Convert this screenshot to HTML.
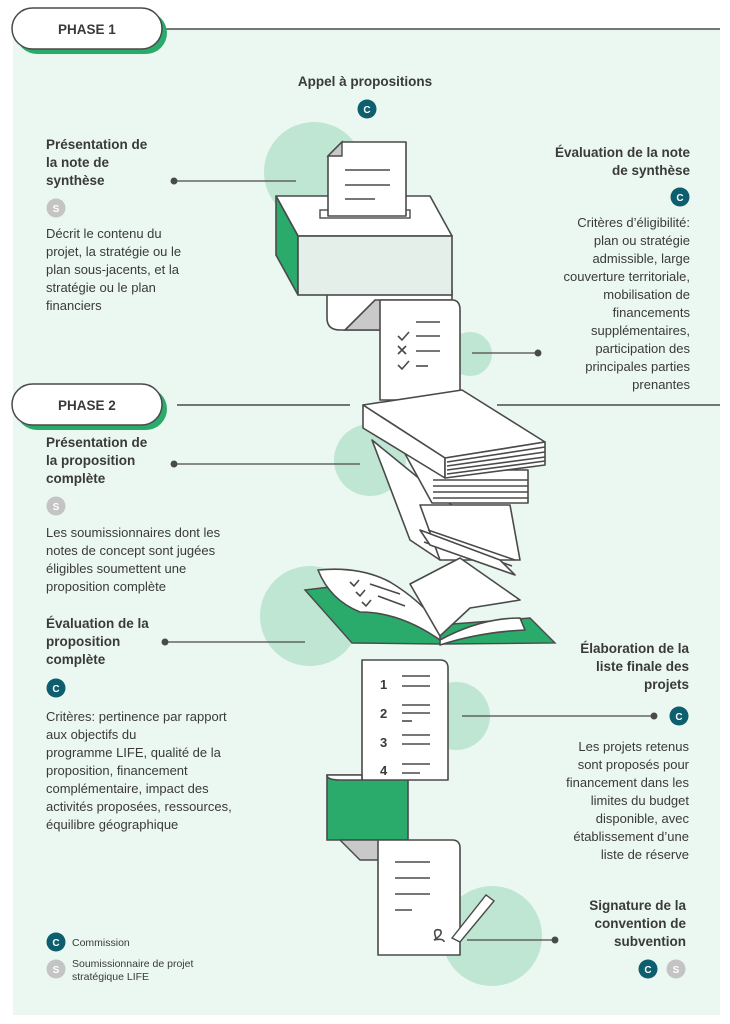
<!DOCTYPE html>
<html><head><meta charset="utf-8"><style>
body{margin:0;background:#fff;width:730px;height:1024px;overflow:hidden;font-family:"Liberation Sans",sans-serif}
svg{display:block}
.b{font-weight:bold;font-size:13.5px;fill:#3a3a3a}
.t{font-size:13px;fill:#3a3a3a}
.s{font-size:10.5px;fill:#3a3a3a}
.o{fill:#fff;stroke:#4a4a4a;stroke-width:1.6;stroke-linejoin:round}
.l{stroke:#4a4a4a;stroke-width:1.6;fill:none}
</style></head><body>
<svg width="730" height="1024" viewBox="0 0 730 1024">
<rect x="13" y="29" width="707" height="986" fill="#ebf7f1"/>
<!-- circles -->
<g fill="#bfe6d2">
<circle cx="314" cy="172" r="50"/><circle cx="470" cy="354" r="22"/>
<circle cx="370" cy="460" r="36"/><circle cx="310" cy="616" r="50"/>
<circle cx="456" cy="716" r="34"/><circle cx="492" cy="936" r="50"/>
</g>
<!-- phase lines -->
<line x1="160" y1="29" x2="720" y2="29" class="l" stroke-width="1.2"/>
<line x1="177" y1="405" x2="350" y2="405" class="l" stroke-width="1.2"/>
<line x1="497" y1="405" x2="720" y2="405" class="l" stroke-width="1.2"/>
<!-- phase pills -->
<rect x="16" y="12" width="151" height="42" rx="21" fill="#2bab6b"/>
<rect x="12" y="8" width="150" height="41" rx="20.5" fill="#fff" stroke="#4a4a4a" stroke-width="1.5"/>
<text x="58" y="34" class="b" font-size="13">PHASE 1</text>
<rect x="16" y="388" width="151" height="42" rx="21" fill="#2bab6b"/>
<rect x="12" y="384" width="150" height="41" rx="20.5" fill="#fff" stroke="#4a4a4a" stroke-width="1.5"/>
<text x="58" y="410" class="b" font-size="13">PHASE 2</text>
<!-- ballot box -->
<path class="o" d="M327 290 H452 V330 H340 Q327 330 327 318 Z"/>
<path d="M345 330 L375 300 H452 V330 Z" fill="#c9c9c9" stroke="#4a4a4a" stroke-width="1.6"/>
<path class="o" d="M276 196 H430 L452 236 H298 Z" fill="#fff"/>
<path d="M276 196 L298 236 V295 L276 255 Z" fill="#2bab6b" stroke="#4a4a4a" stroke-width="1.6"/>
<rect x="298" y="236" width="154" height="59" fill="#e4efe9" stroke="#4a4a4a" stroke-width="1.6"/>
<rect x="320" y="210" width="90" height="8" fill="#fff" stroke="#4a4a4a" stroke-width="1.4"/>
<path class="o" d="M342 142 H406 V216 H328 V156 Z"/>
<path d="M328 156 L342 156 L342 142 Z" fill="#c9c9c9" stroke="#4a4a4a" stroke-width="1.4"/>
<line class="l" x1="345" y1="170" x2="390" y2="170"/><line class="l" x1="345" y1="185" x2="390" y2="185"/><line class="l" x1="345" y1="199" x2="375" y2="199"/>
<!-- checklist -->
<path class="o" d="M380 300 H452 Q460 300 460 310 V400 H380 Z"/>
<g class="l"><path d="M398 336 l4 4 l7 -8"/><line x1="416" y1="322" x2="440" y2="322"/><line x1="416" y1="336" x2="440" y2="336"/><path d="M398 346 l8 8 M406 346 l-8 8"/><line x1="416" y1="351" x2="440" y2="351"/><path d="M398 365 l4 4 l7 -8"/><line x1="416" y1="366" x2="428" y2="366"/></g>
<!-- books -->
<path class="o" d="M372 440 L410 540 L440 560 L470 520 Z"/>
<path class="o" d="M420 505 H510 L520 560 H440 Z"/>
<g class="l" stroke-width="1.2"><line x1="428" y1="530" x2="515" y2="560"/><line x1="426" y1="536" x2="512" y2="566"/><line x1="424" y1="542" x2="510" y2="572"/></g>
<path class="o" d="M420 530 L500 560 L515 575 L430 545 Z"/>
<path class="o" d="M392 430 L432 470 H528 V503 H432 Z"/>
<g class="l" stroke-width="1.2"><line x1="433" y1="480" x2="528" y2="480"/><line x1="433" y1="486" x2="528" y2="486"/><line x1="433" y1="492" x2="528" y2="492"/><line x1="433" y1="498" x2="528" y2="498"/></g>
<path class="o" d="M363 405 L462 390 L545 442 L445 458 Z" fill="#e4efe9"/>
<path class="o" d="M363 405 V428 L445 478 V458 Z"/>
<path class="o" d="M445 458 L545 442 V465 L445 478 Z"/>
<g class="l" stroke-width="1.1"><line x1="447" y1="462" x2="545" y2="447"/><line x1="447" y1="466" x2="545" y2="452"/><line x1="447" y1="470" x2="545" y2="457"/><line x1="447" y1="474" x2="545" y2="461"/></g>
<!-- open book -->
<path d="M305 590 L355 584 L440 625 L530 618 L555 643 L440 644 L352 643 Z" fill="#2bab6b" stroke="#4a4a4a" stroke-width="1.4"/>
<path class="o" d="M318 570 Q360 566 390 582 Q420 600 440 626 L440 640 Q400 612 360 612 Q330 600 318 570 Z"/>
<path class="o" d="M410 584 L460 558 L520 600 L470 608 L440 636 Z"/>
<path class="o" d="M440 640 Q480 618 520 618 L525 630 Q480 632 440 645 Z"/>
<g class="l" stroke-width="1.2"><path d="M350 582 l4 4 l5 -6"/><path d="M356 592 l4 4 l5 -6"/><path d="M362 602 l4 4 l5 -6"/><line x1="370" y1="584" x2="400" y2="594"/><line x1="378" y1="596" x2="405" y2="606"/></g>
<!-- list scroll -->
<path d="M327 775 H408 V840 H327 Z" fill="#2bab6b" stroke="#4a4a4a" stroke-width="1.6"/>
<path class="o" d="M362 660 H440 Q448 660 448 668 V780 H362 Z"/>
<path class="o" d="M327 775 Q327 780 340 780 H362 V775 Z"/>
<g fill="#3a3a3a" font-weight="bold" font-size="13"><text x="380" y="689">1</text><text x="380" y="718">2</text><text x="380" y="747">3</text><text x="380" y="775">4</text></g>
<g class="l"><line x1="402" y1="676" x2="430" y2="676"/><line x1="402" y1="686" x2="430" y2="686"/><line x1="402" y1="705" x2="430" y2="705"/><line x1="402" y1="713" x2="430" y2="713"/><line x1="402" y1="721" x2="412" y2="721"/><line x1="402" y1="735" x2="430" y2="735"/><line x1="402" y1="744" x2="430" y2="744"/><line x1="402" y1="764" x2="430" y2="764"/><line x1="402" y1="773" x2="420" y2="773"/></g>
<path d="M340 840 L360 860 H408 V840 Z" fill="#c9c9c9" stroke="#4a4a4a" stroke-width="1.4"/>
<!-- contract -->
<path class="o" d="M378 840 H452 Q460 840 460 848 V955 H378 Z"/>
<g class="l"><line x1="395" y1="862" x2="430" y2="862"/><line x1="395" y1="878" x2="430" y2="878"/><line x1="395" y1="894" x2="430" y2="894"/><line x1="395" y1="910" x2="412" y2="910"/><path d="M436 938 q-4 -10 4 -8 q4 4 -6 10 q10 -2 10 2"/></g>
<path d="M452 938 L486 895 L494 901 L460 942 Z" fill="#fff" stroke="#4a4a4a" stroke-width="1.4"/>
<!-- connectors -->
<g stroke="#4a4a4a" stroke-width="1.3" fill="#4a4a4a">
<line x1="174" y1="181" x2="296" y2="181"/><circle cx="174" cy="181" r="2.8"/>
<line x1="472" y1="353" x2="538" y2="353"/><circle cx="538" cy="353" r="2.8"/>
<line x1="174" y1="464" x2="360" y2="464"/><circle cx="174" cy="464" r="2.8"/>
<line x1="165" y1="642" x2="305" y2="642"/><circle cx="165" cy="642" r="2.8"/>
<line x1="462" y1="716" x2="654" y2="716"/><circle cx="654" cy="716" r="2.8"/>
<line x1="467" y1="940" x2="555" y2="940"/><circle cx="555" cy="940" r="2.8"/>
</g>
<!-- badges -->
<g font-weight="bold" font-size="10" fill="#fff" text-anchor="middle">
<circle cx="367" cy="109" r="9.5" fill="#0d5e6e"/><text x="367" y="113">C</text>
<circle cx="56" cy="208" r="9.5" fill="#c4c4c4"/><text x="56" y="212">S</text>
<circle cx="680" cy="197" r="9.5" fill="#0d5e6e"/><text x="680" y="201">C</text>
<circle cx="56" cy="506" r="9.5" fill="#c4c4c4"/><text x="56" y="510">S</text>
<circle cx="56" cy="688" r="9.5" fill="#0d5e6e"/><text x="56" y="692">C</text>
<circle cx="679" cy="716" r="9.5" fill="#0d5e6e"/><text x="679" y="720">C</text>
<circle cx="56" cy="942" r="9.5" fill="#0d5e6e"/><text x="56" y="946">C</text>
<circle cx="56" cy="969" r="9.5" fill="#c4c4c4"/><text x="56" y="973">S</text>
<circle cx="648" cy="969" r="9.5" fill="#0d5e6e"/><text x="648" y="973">C</text>
<circle cx="676" cy="969" r="9.5" fill="#c4c4c4"/><text x="676" y="973">S</text>
</g>
<!-- texts -->
<text x="365" y="86" class="b" text-anchor="middle">Appel à propositions</text>
<g class="b"><text x="46" y="149">Présentation de</text><text x="46" y="167">la note de</text><text x="46" y="185">synthèse</text></g>
<g class="t"><text x="46" y="238">Décrit le contenu du</text><text x="46" y="256">projet, la stratégie ou le</text><text x="46" y="274">plan sous-jacents, et la</text><text x="46" y="292">stratégie ou le plan</text><text x="46" y="310">financiers</text></g>
<g class="b" text-anchor="end"><text x="690" y="157">Évaluation de la note</text><text x="690" y="175">de synthèse</text></g>
<g class="t" text-anchor="end"><text x="690" y="227">Critères d’éligibilité:</text><text x="690" y="245">plan ou stratégie</text><text x="690" y="263">admissible, large</text><text x="690" y="281">couverture territoriale,</text><text x="690" y="299">mobilisation de</text><text x="690" y="317">financements</text><text x="690" y="335">supplémentaires,</text><text x="690" y="353">participation des</text><text x="690" y="371">principales parties</text><text x="690" y="389">prenantes</text></g>
<g class="b"><text x="46" y="447">Présentation de</text><text x="46" y="465">la proposition</text><text x="46" y="483">complète</text></g>
<g class="t"><text x="46" y="537">Les soumissionnaires dont les</text><text x="46" y="555">notes de concept sont jugées</text><text x="46" y="573">éligibles soumettent une</text><text x="46" y="591">proposition complète</text></g>
<g class="b"><text x="46" y="628">Évaluation de la</text><text x="46" y="646">proposition</text><text x="46" y="664">complète</text></g>
<g class="t"><text x="46" y="721">Critères: pertinence par rapport</text><text x="46" y="739">aux objectifs du</text><text x="46" y="757">programme LIFE, qualité de la</text><text x="46" y="775">proposition, financement</text><text x="46" y="793">complémentaire, impact des</text><text x="46" y="811">activités proposées, ressources,</text><text x="46" y="829">équilibre géographique</text></g>
<g class="b" text-anchor="end"><text x="689" y="653">Élaboration de la</text><text x="689" y="671">liste finale des</text><text x="689" y="689">projets</text></g>
<g class="t" text-anchor="end"><text x="689" y="751">Les projets retenus</text><text x="689" y="769">sont proposés pour</text><text x="689" y="787">financement dans les</text><text x="689" y="805">limites du budget</text><text x="689" y="823">disponible, avec</text><text x="689" y="841">établissement d’une</text><text x="689" y="859">liste de réserve</text></g>
<g class="b" text-anchor="end"><text x="686" y="910">Signature de la</text><text x="686" y="928">convention de</text><text x="686" y="946">subvention</text></g>
<text x="72" y="946" class="s">Commission</text>
<text x="72" y="967" class="s">Soumissionnaire de projet</text><text x="72" y="980" class="s">stratégique LIFE</text>
</svg>
</body></html>
